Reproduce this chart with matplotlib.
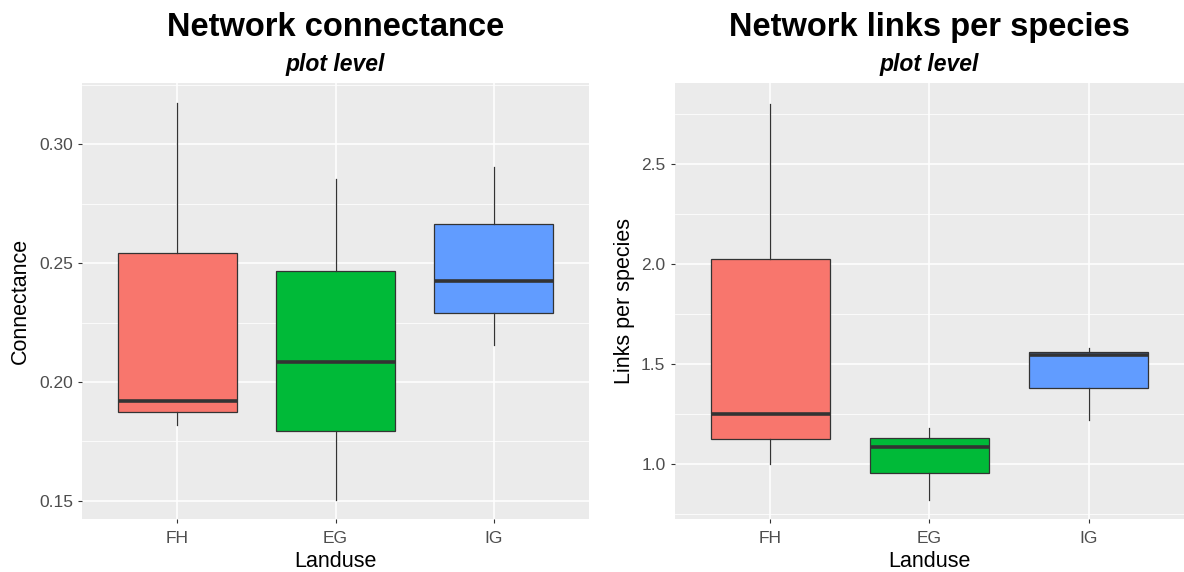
import matplotlib
matplotlib.use("Agg")
import matplotlib.pyplot as plt
from matplotlib.ticker import MultipleLocator

plt.rcParams['font.family'] = ['Liberation Sans', 'DejaVu Sans']

# Land-use categories and their fill colours
landuse = ["FH", "EG", "IG"]
fills = ["#F8766D", "#00BA38", "#619CFF"]

# Connectance summary (whisker low, Q1, median, Q3, whisker high)
conn_whislo = [0.182, 0.1505, 0.2154]
conn_q1 = [0.1872, 0.1795, 0.2290]
conn_med = [0.1918, 0.2085, 0.2423]
conn_q3 = [0.2542, 0.2465, 0.2663]
conn_whishi = [0.3175, 0.2855, 0.2903]

# Links per species summary
lps_whislo = [1.00, 0.82, 1.22]
lps_q1 = [1.125, 0.954, 1.382]
lps_med = [1.25, 1.083, 1.543]
lps_q3 = [2.025, 1.130, 1.561]
lps_whishi = [2.80, 1.178, 1.581]

conn_ticks = [0.15, 0.20, 0.25, 0.30]
lps_ticks = [1.0, 1.5, 2.0, 2.5]

W, H = 1184, 572
fig = plt.figure(figsize=(W / 100, H / 100), dpi=100)


def px_axes(left, top, right, bottom):
    return fig.add_axes([left / W, 1 - bottom / H, (right - left) / W, (bottom - top) / H])


def gg_box(ax, lo, q1, med, q3, hi, ylim, major, minor, ticks, ticklabels, ylabel):
    stats = []
    for i in range(len(landuse)):
        stats.append(dict(whislo=lo[i], q1=q1[i], med=med[i], q3=q3[i], whishi=hi[i], label=landuse[i]))
    ax.set_facecolor("#EBEBEB")
    ax.set_axisbelow(True)
    bp = ax.bxp(stats, positions=[1, 2, 3], widths=0.75, showfliers=False, showcaps=False,
                patch_artist=True,
                boxprops=dict(edgecolor="#333333", linewidth=0.9),
                whiskerprops=dict(color="#333333", linewidth=0.9),
                medianprops=dict(color="#333333", linewidth=2.6, solid_capstyle="butt"))
    for patch, c in zip(bp["boxes"], fills):
        patch.set_facecolor(c)
    ax.set_xlim(0.4, 3.6)
    ax.set_ylim(*ylim)
    ax.yaxis.set_major_locator(MultipleLocator(major))
    ax.yaxis.set_minor_locator(MultipleLocator(minor))
    ax.set_yticks(ticks)
    ax.set_yticklabels(ticklabels)
    ax.set_xticks([1, 2, 3])
    ax.set_xticklabels(landuse)
    ax.grid(which="major", color="white", linewidth=1.1)
    ax.grid(which="minor", axis="y", color="white", linewidth=0.55)
    ax.tick_params(which="major", length=3.2, width=0.8, color="#333333",
                   labelsize=12.5, labelcolor="#4D4D4D", pad=3.5)
    ax.tick_params(axis="x", which="major", pad=5)
    ax.tick_params(which="minor", length=0)
    for s in ax.spines.values():
        s.set_visible(False)
    ax.set_xlabel("Landuse", fontsize=15.5, labelpad=4)
    ax.set_ylabel(ylabel, fontsize=15.5)


ax1 = px_axes(82.3, 83.3, 588.7, 519.3)
gg_box(ax1, conn_whislo, conn_q1, conn_med, conn_q3, conn_whishi,
       (0.1422, 0.3257), 0.05, 0.025, conn_ticks, [f"{t:.2f}" for t in conn_ticks], "Connectance")
ax1.yaxis.set_label_coords(-0.101, 0.5)

ax2 = px_axes(674.7, 82.5, 1184, 519.3)
gg_box(ax2, lps_whislo, lps_q1, lps_med, lps_q3, lps_whishi,
       (0.724, 2.905), 0.5, 0.25, lps_ticks, [f"{t:.1f}" for t in lps_ticks], "Links per species")
ax2.yaxis.set_label_coords(-0.078, 0.5)

for ax, title in [(ax1, "Network connectance"), (ax2, "Network links per species")]:
    pos = ax.get_position()
    cx = pos.x0 + pos.width / 2
    fig.text(cx, 1 - 36 / H, title, ha="center", va="baseline", fontsize=23.5, fontweight="bold")
    fig.text(cx, 1 - 71.5 / H, "plot level", ha="center", va="baseline", fontsize=16.5,
             fontweight="bold", fontstyle="italic")

fig.savefig("out.png", dpi=100, facecolor="white")
